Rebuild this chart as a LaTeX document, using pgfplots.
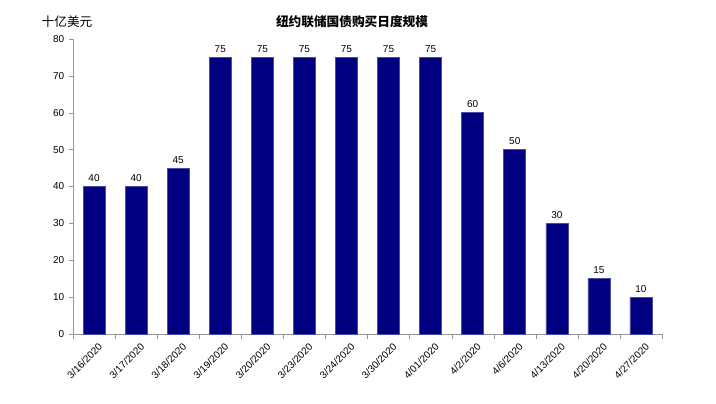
\documentclass[border=0pt]{standalone}
\usepackage{pgfplots}
\pgfplotsset{compat=1.18}
\usepackage{fontspec}
\setmainfont{Liberation Sans}
\newfontfamily\cjk{Noto Sans CJK SC}
\definecolor{barblue}{RGB}{0,0,128}
\definecolor{axisgray}{RGB}{150,150,150}
\begin{document}
\begin{tikzpicture}[x=0.75pt,y=0.75pt]
\path[use as bounding box] (0,0) rectangle (716,403);
\node[font=\cjk\fontsize{9.5}{10}\selectfont] at (67,381) {十亿美元};
\node[font=\cjk\bfseries\fontsize{9.5}{10}\selectfont] at (352,381) {纽约联储国债购买日度规模};
\begin{axis}[
  at={(54.75pt,51.75pt)}, anchor=south west,
  scale only axis,
  width=441.75pt, height=221.25pt,
  ybar, bar width=16.5pt,
  xmin=-0.5, xmax=13.5,
  ymin=0, ymax=80,
  ytick={0,10,...,80},
  xtick=data,
  xticklabels={3/16/2020,3/17/2020,3/18/2020,3/19/2020,3/20/2020,3/23/2020,3/24/2020,3/30/2020,4/01/2020,4/2/2020,4/6/2020,4/13/2020,4/20/2020,4/27/2020},
  minor xtick={-0.5,0.5,...,13.5},
  axis lines=left,
  axis line style={-, draw=axisgray},
  major x tick style={draw=none},
  minor tick length=4pt,
  major tick length=3pt,
  tick style={draw=axisgray},
  tick align=outside,
  x tick label style={rotate=45, anchor=north east, font=\fontsize{7.5}{8}\selectfont, xshift=3pt, yshift=-1pt},
  y tick label style={font=\fontsize{7.5}{8}\selectfont},
  /pgf/number format/assume math mode=true,
  nodes near coords,
  every node near coord/.append style={font=\fontsize{7.5}{8}\selectfont, black},
  clip=false,
]
\addplot[fill=barblue, draw=barblue!70!white, line width=0.4pt] coordinates {
 (0,40) (1,40) (2,45) (3,75) (4,75) (5,75) (6,75) (7,75) (8,75)
 (9,60) (10,50) (11,30) (12,15) (13,10)
};
\end{axis}
\end{tikzpicture}
\end{document}
